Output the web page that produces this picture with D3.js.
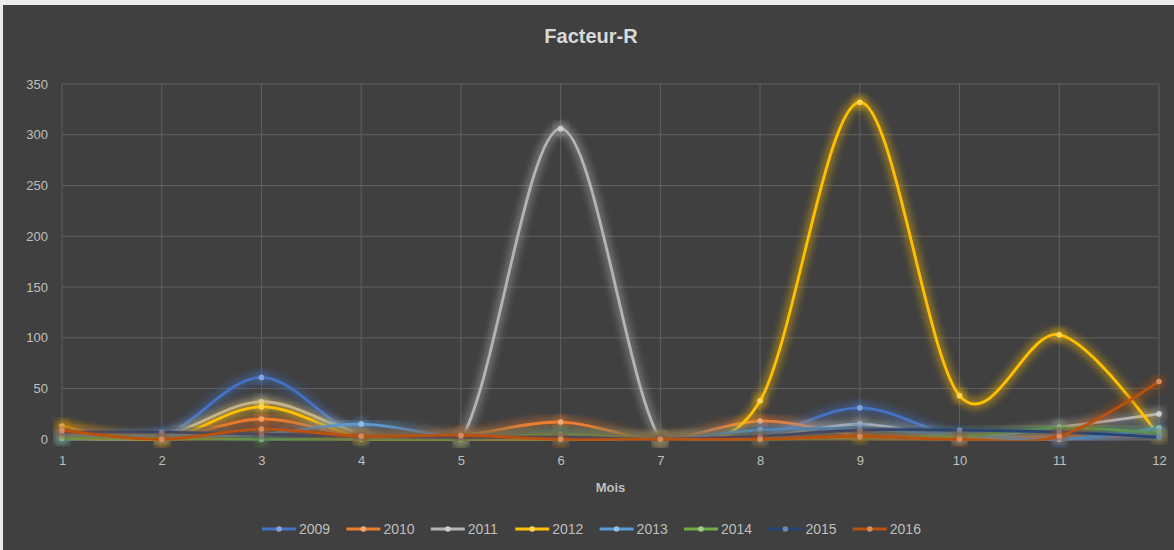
<!DOCTYPE html>
<html>
<head>
<meta charset="utf-8">
<script src="https://cdn.jsdelivr.net/npm/d3@7"></script>
<style>
  body { margin: 0; background: #ececec; }
  svg { display: block; }
  text { font-family: "Liberation Sans Narrow", "Liberation Sans", "DejaVu Sans Condensed", sans-serif; }
</style>
</head>
<body>
<svg width="1174" height="550"></svg>
<script>
// chart data
var months = [1, 2, 3, 4, 5, 6, 7, 8, 9, 10, 11, 12];
var yTicks = [0, 50, 100, 150, 200, 250, 300, 350];
var years = ["2009", "2010", "2011", "2012", "2013", "2014", "2015", "2016"];
var colors = ["#4472C4", "#ED7D31", "#B4B4B4", "#FFC000", "#5B9BD5", "#70AD47", "#264478", "#B9510F"];

var v2009 = [4, 3, 61, 2, 0, 2, 0, 3, 31, 2, 0, 5];
var v2010 = [8, 0, 20, 3, 4, 17, 0, 18, 4, 1, 3, 3];
var v2011 = [2, 3, 37, 6, 0, 306, 0, 2, 15, 2, 12, 25];
var v2012 = [13, 0, 32, 2, 0, 0, 0, 38, 332, 43, 103, 3];
var v2013 = [2, 3, 5, 15, 2, 4, 0, 9, 10, 4, 0, 11];
var v2014 = [1, 1, 0, 0, 0, 5, 0, 0, 2, 3, 11, 6];
var v2015 = [7, 7, 5, 3, 2, 2, 0, 3, 9, 9, 7, 2];
var v2016 = [9, 0, 10, 3, 4, 0, 0, 0, 3, 0, 3, 57];
var allValues = [v2009, v2010, v2011, v2012, v2013, v2014, v2015, v2016];

var svg = d3.select("svg");

// dark chart background with the light edge at top/left
svg.append("rect")
    .attr("x", 3).attr("y", 5)
    .attr("width", 1171).attr("height", 545)
    .attr("fill", "#404040");

var x = d3.scaleLinear().domain([1, 12]).range([62, 1159]);
var y = d3.scaleLinear().domain([0, 350]).range([439.3, 84]);

// glow filter used for lines and markers
var defs = svg.append("defs");
var glow = defs.append("filter")
    .attr("id", "glow")
    .attr("x", "-20%").attr("y", "-20%")
    .attr("width", "140%").attr("height", "140%");
glow.append("feGaussianBlur").attr("stdDeviation", 4.5);

// excel clips the series lines to the plot area
defs.append("clipPath")
    .attr("id", "plotclip")
  .append("rect")
    .attr("x", x(1) - 20).attr("y", y(350) - 20)
    .attr("width", x(12) - x(1) + 40)
    .attr("height", y(0) - y(350) + 21.5);

// gridlines
svg.append("g")
  .selectAll("line")
  .data(yTicks)
  .enter().append("line")
    .attr("x1", x(1)).attr("x2", x(12))
    .attr("y1", function(d) { return y(d); })
    .attr("y2", function(d) { return y(d); })
    .attr("stroke", "#5f5f5f")
    .attr("stroke-width", 1);

svg.append("g")
  .selectAll("line")
  .data(months)
  .enter().append("line")
    .attr("x1", function(d) { return x(d); })
    .attr("x2", function(d) { return x(d); })
    .attr("y1", y(350)).attr("y2", y(0))
    .attr("stroke", "#5f5f5f")
    .attr("stroke-width", 1);

// axes (labels only)
var yAxis = svg.append("g")
    .attr("transform", "translate(" + x(1) + ",0)")
    .call(d3.axisLeft(y).tickValues(yTicks).tickSize(0).tickPadding(14));
yAxis.select(".domain").remove();
yAxis.selectAll("text")
    .attr("fill", "#bfbfbf")
    .style("font-size", "13px");

var xAxis = svg.append("g")
    .attr("transform", "translate(0," + y(0) + ")")
    .call(d3.axisBottom(x).tickValues(months).tickSize(0).tickPadding(16).tickFormat(d3.format("d")));
xAxis.select(".domain").remove();
xAxis.selectAll("text")
    .attr("fill", "#bfbfbf")
    .style("font-size", "13px");

// title and axis title
svg.append("text")
    .attr("x", 591).attr("y", 43)
    .attr("text-anchor", "middle")
    .attr("fill", "#d9d9d9")
    .style("font-size", "20px")
    .style("font-weight", "bold")
    .text("Facteur-R");

svg.append("text")
    .attr("x", (x(1) + x(12)) / 2).attr("y", 492)
    .attr("text-anchor", "middle")
    .attr("fill", "#bfbfbf")
    .style("font-size", "13px")
    .style("font-weight", "bold")
    .text("Mois");

// smooth lines like excel's
var line = d3.line()
    .x(function(d, i) { return x(months[i]); })
    .y(function(d) { return y(d); })
    .curve(d3.curveCatmullRom.alpha(0));

var series = svg.append("g")
  .selectAll("g")
  .data(allValues)
  .enter().append("g");

// glow underneath
series.append("path")
    .attr("d", line)
    .attr("fill", "none")
    .attr("stroke", function(d, i) { return colors[i]; })
    .attr("stroke-width", 8)
    .attr("opacity", 0.55)
    .attr("filter", "url(#glow)")
    .attr("clip-path", "url(#plotclip)");

series.selectAll("circle.halo")
  .data(function(d, i) { return d.map(function(v) { return {v: v, i: i}; }); })
  .enter().append("circle")
    .attr("class", "halo")
    .attr("cx", function(d, j) { return x(months[j]); })
    .attr("cy", function(d) { return y(d.v); })
    .attr("r", 6)
    .attr("fill", function(d) { return colors[d.i]; })
    .attr("opacity", 0.5)
    .attr("filter", "url(#glow)");

series.append("path")
    .attr("d", line)
    .attr("fill", "none")
    .attr("stroke", function(d, i) { return colors[i]; })
    .attr("stroke-width", 2.8)
    .attr("clip-path", "url(#plotclip)");

series.selectAll("circle.dot")
  .data(function(d, i) { return d.map(function(v) { return {v: v, i: i}; }); })
  .enter().append("circle")
    .attr("class", "dot")
    .attr("cx", function(d, j) { return x(months[j]); })
    .attr("cy", function(d) { return y(d.v); })
    .attr("r", 2.8)
    .attr("fill", function(d) { return d3.interpolateRgb(colors[d.i], "#ffffff")(0.35); });

// legend
var legend = svg.append("g")
    .attr("transform", "translate(262,529)");

var item = legend.selectAll("g")
  .data(years)
  .enter().append("g")
    .attr("transform", function(d, i) { return "translate(" + (i * 84.4) + ",0)"; });

item.append("line")
    .attr("x1", 0).attr("x2", 34)
    .attr("stroke", function(d, i) { return colors[i]; })
    .attr("stroke-width", 2.8);

item.append("circle")
    .attr("cx", 17).attr("r", 2.8)
    .attr("fill", function(d, i) { return d3.interpolateRgb(colors[i], "#ffffff")(0.35); });

item.append("text")
    .attr("x", 37).attr("y", 5)
    .attr("fill", "#bfbfbf")
    .style("font-size", "14px")
    .text(function(d) { return d; });
</script>
</body>
</html>
